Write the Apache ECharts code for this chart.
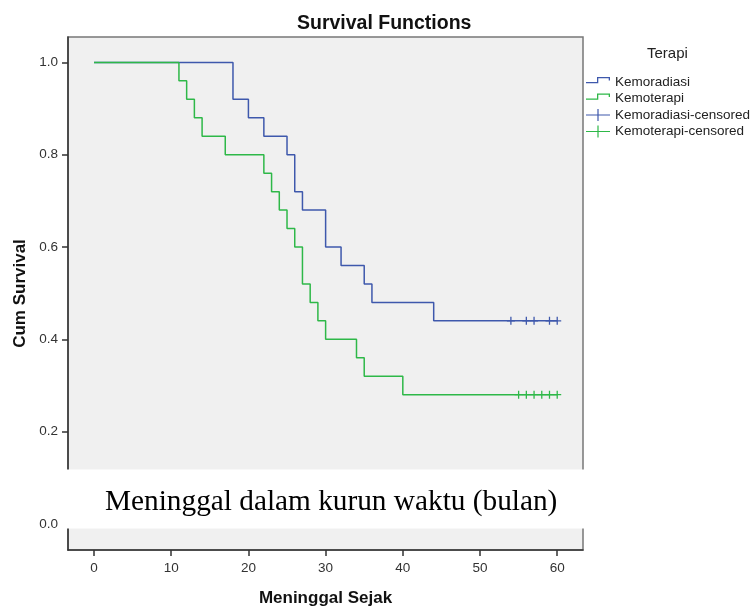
<!DOCTYPE html>
<html>
<head>
<meta charset="utf-8">
<script src="https://cdn.jsdelivr.net/npm/echarts@6/dist/echarts.min.js"></script>
<style>
  html, body { margin: 0; padding: 0; background: #fff; }
  #main { width: 753px; height: 607px; }
</style>
</head>
<body>
<div id="main"></div>
<script>
// Kaplan-Meier steps
const kemoradiasiTime = [0, 18, 20, 22, 25, 26, 27, 30, 32, 35, 36, 44, 60];
const kemoradiasiSurv = [1.0, 0.92, 0.88, 0.84, 0.80, 0.72, 0.68, 0.60, 0.56, 0.52, 0.48, 0.44, 0.44];
const kemoterapiTime = [0, 11, 12, 13, 14, 17, 22, 23, 24, 25, 26, 27, 28, 29, 30, 34, 35, 40, 60];
const kemoterapiSurv = [1.0, 0.96, 0.92, 0.88, 0.84, 0.80, 0.76, 0.72, 0.68, 0.64, 0.60, 0.52, 0.48, 0.44, 0.40, 0.36, 0.32, 0.28, 0.28];
// censored times (last level of each curve)
const kemoradiasiCensored = [54, 56, 57, 59, 60];
const kemoterapiCensored = [55, 56, 57, 58, 59, 60];
const xTicks = [0, 10, 20, 30, 40, 50, 60];
const yTicks = [0, 0.2, 0.4, 0.6, 0.8, 1.0];

const blue = '#3e58ac';
const green = '#2eb848';
const sans = 'Liberation Sans, Arial, sans-serif';

const stepIcon = 'path://M0,0 M24,12 M0,6 H11 V1 H24 V4.5 H22.7 V2.3 H12.3 V7.3 H0 Z';
const crossIcon = 'path://M0,5.4 H11.4 V0 H12.6 V5.4 H24 V6.6 H12.6 V12 H11.4 V6.6 H0 Z';
const plusMark = 'path://M0,4.2 H4.2 V0 H5.8 V4.2 H10 V5.8 H5.8 V10 H4.2 V5.8 H0 Z';

function zip(xs, ys) {
    return xs.map((x, i) => [x, ys[i]]);
}
function censorPoints(xs, level) {
    return xs.map(x => [x, level]);
}

let myChart = echarts.init(document.getElementById('main'), null, { renderer: 'canvas' });

let axisLabel = {
    color: '#333',
    fontFamily: sans,
    fontSize: 13.5,
    margin: 10
};

let option = {
    animation: false,
    backgroundColor: '#fff',
    title: {
        text: 'Survival Functions',
        left: 292,
        top: 9,
        textStyle: { fontFamily: sans, fontSize: 19.5, fontWeight: 'bold', color: '#111' }
    },
    grid: {
        left: 68,
        right: 170,
        top: 37,
        bottom: 57,
        outerBoundsMode: 'none',
        containLabel: false,
        show: true,
        backgroundColor: '#f0f0f0',
        borderColor: '#777',
        borderWidth: 1.5
    },
    legend: {
        orient: 'vertical',
        left: 581,
        top: 70,
        itemWidth: 24,
        itemHeight: 12,
        itemGap: 2.5,
        selectedMode: false,
        textStyle: { fontFamily: sans, fontSize: 13.5, color: '#222' },
        data: [
            { name: 'Kemoradiasi', icon: stepIcon, itemStyle: { color: blue } },
            { name: 'Kemoterapi', icon: stepIcon, itemStyle: { color: green } },
            { name: 'Kemoradiasi-censored', icon: crossIcon, itemStyle: { color: blue } },
            { name: 'Kemoterapi-censored', icon: crossIcon, itemStyle: { color: green } }
        ]
    },
    xAxis: {
        type: 'value',
        min: -3.37,
        max: 63.34,
        name: 'Meninggal Sejak',
        nameLocation: 'middle',
        nameGap: 40,
        nameTextStyle: { fontFamily: sans, fontSize: 17, fontWeight: 'bold', color: '#111' },
        axisLine: { onZero: false, lineStyle: { color: '#333', width: 1.5 } },
        axisTick: { show: true, length: 6, customValues: xTicks, lineStyle: { color: '#333', width: 1.5 } },
        axisLabel: Object.assign({}, axisLabel, { customValues: xTicks, margin: 11 }),
        splitLine: { show: false }
    },
    yAxis: {
        type: 'value',
        min: -0.0564,
        max: 1.055,
        name: 'Cum Survival',
        nameLocation: 'middle',
        nameGap: 38,
        nameTextStyle: { fontFamily: sans, fontSize: 17, fontWeight: 'bold', color: '#111' },
        axisLine: { show: true, onZero: false, lineStyle: { color: '#333', width: 1.5 } },
        axisTick: { show: true, length: 6, customValues: yTicks, lineStyle: { color: '#333', width: 1.5 } },
        axisLabel: Object.assign({}, axisLabel, {
            customValues: yTicks,
            formatter: v => v.toFixed(1)
        }),
        splitLine: { show: false }
    },
    series: [
        {
            name: 'Kemoradiasi',
            type: 'line',
            step: 'end',
            showSymbol: false,
            lineStyle: { color: blue, width: 1.5 },
            itemStyle: { color: blue },
            data: zip(kemoradiasiTime, kemoradiasiSurv)
        },
        {
            name: 'Kemoterapi',
            type: 'line',
            step: 'end',
            showSymbol: false,
            lineStyle: { color: green, width: 1.5 },
            itemStyle: { color: green },
            data: zip(kemoterapiTime, kemoterapiSurv)
        },
        {
            name: 'Kemoradiasi-censored',
            type: 'scatter',
            symbol: plusMark,
            symbolSize: 8,
            itemStyle: { color: blue, opacity: 1 },
            data: censorPoints(kemoradiasiCensored, kemoradiasiSurv[kemoradiasiSurv.length - 1])
        },
        {
            name: 'Kemoterapi-censored',
            type: 'scatter',
            symbol: plusMark,
            symbolSize: 8,
            itemStyle: { color: green, opacity: 1 },
            data: censorPoints(kemoterapiCensored, kemoterapiSurv[kemoterapiSurv.length - 1])
        }
    ],
    graphic: [
        {
            type: 'text',
            left: 647,
            top: 46,
            style: { text: 'Terapi', fontFamily: sans, fontSize: 15, fill: '#222' }
        },
        {
            // pasted white caption band over the lower part of the plot
            type: 'rect',
            z: 100,
            shape: { x: 61, y: 469.5, width: 545, height: 59 },
            style: { fill: '#fff' }
        },
        {
            type: 'text',
            z: 101,
            x: 105,
            y: 502,
            style: {
                text: 'Meninggal dalam kurun waktu (bulan)',
                fontFamily: 'Liberation Serif, Times New Roman, serif',
                fontSize: 29.3,
                fill: '#000',
                verticalAlign: 'middle'
            }
        }
    ]
};
myChart.setOption(option);
</script>
</body>
</html>
